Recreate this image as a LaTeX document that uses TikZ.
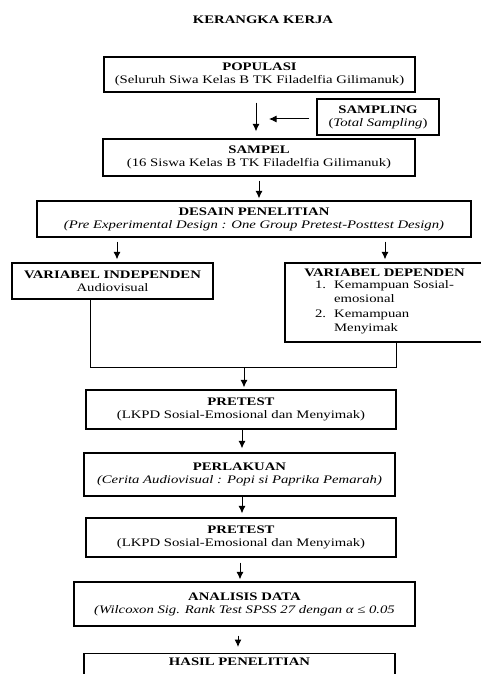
\documentclass[tikz,border=0pt]{standalone}
\usepackage{fontspec}
\setmainfont{Liberation Serif}[FakeStretch=1.28]
\usetikzlibrary{arrows.meta}
\begin{document}
\begin{tikzpicture}[x=1pt,y=-1pt,
  box/.style={draw, line width=1.2pt, rectangle, align=center, inner sep=0pt,
    font=\fontsize{11.5}{13}\selectfont},
  arr/.style={line width=1pt, -{Latex[length=7.5pt,width=7pt]}},
  conn/.style={line width=1pt},
  ttl/.style={font=\fontsize{11.5}{13}\selectfont\bfseries}]
\useasboundingbox (0,0) rectangle (481,674);
\node[ttl] (title) at (263,20) {KERANGKA KERJA};
\node[box, minimum width=311pt, minimum height=35pt] (pop) at (259.5,74.5)
  {\textbf{POPULASI}\\(Seluruh Siwa Kelas B TK Filadelfia Gilimanuk)};
\node[box, minimum width=122pt, minimum height=36pt] (samp) at (378,117)
  {\textbf{SAMPLING}\\(\textit{Total Sampling})};
\node[box, minimum width=312pt, minimum height=37pt] (sampel) at (259,157.5)
  {\textbf{SAMPEL}\\(16 Siswa Kelas B TK Filadelfia Gilimanuk)};
\node[box, minimum width=434pt, minimum height=36pt] (desain) at (254,219)
  {\textbf{DESAIN PENELITIAN}\\\textit{(Pre Experimental Design : One Group Pretest-Posttest Design)}};
\node[box, minimum width=201pt, minimum height=36pt] (vi) at (112.5,281)
  {\textbf{VARIABEL INDEPENDEN}\\Audiovisual};
\node[box, minimum width=199pt, minimum height=79pt, font=\fontsize{11.5}{14.5}\selectfont] (vd) at (384.5,302.5)
  {\textbf{VARIABEL DEPENDEN}\\
   \begin{tabular}{@{}l@{\hspace{8pt}}l@{}}1. & Kemampuan Sosial-\\ & emosional\\ 2. & Kemampuan\\ & Menyimak\end{tabular}};
\node[box, minimum width=310pt, minimum height=39pt] (pre1) at (241,409.5)
  {\textbf{PRETEST}\\(LKPD Sosial-Emosional dan Menyimak)};
\node[box, minimum width=311pt, minimum height=43pt] (perl) at (239.5,474.5)
  {\textbf{PERLAKUAN}\\\textit{(Cerita Audiovisual : Popi si Paprika Pemarah)}};
\node[box, minimum width=310pt, minimum height=39pt] (pre2) at (241,537.5)
  {\textbf{PRETEST}\\(LKPD Sosial-Emosional dan Menyimak)};
\node[box, minimum width=341pt, minimum height=44pt] (anal) at (244.5,604)
  {\textbf{ANALISIS DATA}\\\textit{(Wilcoxon Sig. Rank Test SPSS 27 dengan α ≤ 0.05}};
\node[box, minimum width=311pt, anchor=north, inner ysep=4pt, text depth=40pt] (hasil) at (239.5,653)
  {\textbf{HASIL PENELITIAN}};
% x positions of the vertical arrows
\coordinate (x1) at (256,0);
\coordinate (x3) at (259,0);
\coordinate (x4) at (117,0);
\coordinate (x5) at (385,0);
\coordinate (x6) at (242,0);
\coordinate (x8) at (240,0);
\coordinate (x9) at (238,0);
\coordinate (jl) at (90,367);
\coordinate (jr) at (396,367);
\coordinate (jm) at (244,367);
\coordinate (sl) at (269,119);
\draw[arr, shorten <=10pt, shorten >=7pt] (pop.south -| x1) -- (sampel.north -| x1);
\draw[arr, shorten <=7pt] (samp.west |- sl) -- (sl);
\draw[arr, shorten <=4pt, shorten >=2pt] (sampel.south -| x3) -- (desain.north -| x3);
\draw[arr, shorten <=4pt, shorten >=3pt] (desain.south -| x4) -- (vi.north -| x4);
\draw[arr, shorten <=4pt, shorten >=3pt] (desain.south -| x5) -- (vd.north -| x5);
\draw[conn] (vi.south -| jl) -- (jl) -- (jr) -- (vd.south -| jr);
\draw[arr, shorten >=2pt] (jm) -- (pre1.north -| jm);
\draw[arr, shorten >=4pt] (pre1.south -| x6) -- (perl.north -| x6);
\draw[arr, shorten >=4pt] (perl.south -| x6) -- (pre2.north -| x6);
\draw[arr, shorten <=5pt, shorten >=2pt] (pre2.south -| x8) -- (anal.north -| x8);
\draw[arr, shorten <=9pt, shorten >=6pt] (anal.south -| x9) -- (hasil.north -| x9);
\end{tikzpicture}
\end{document}
